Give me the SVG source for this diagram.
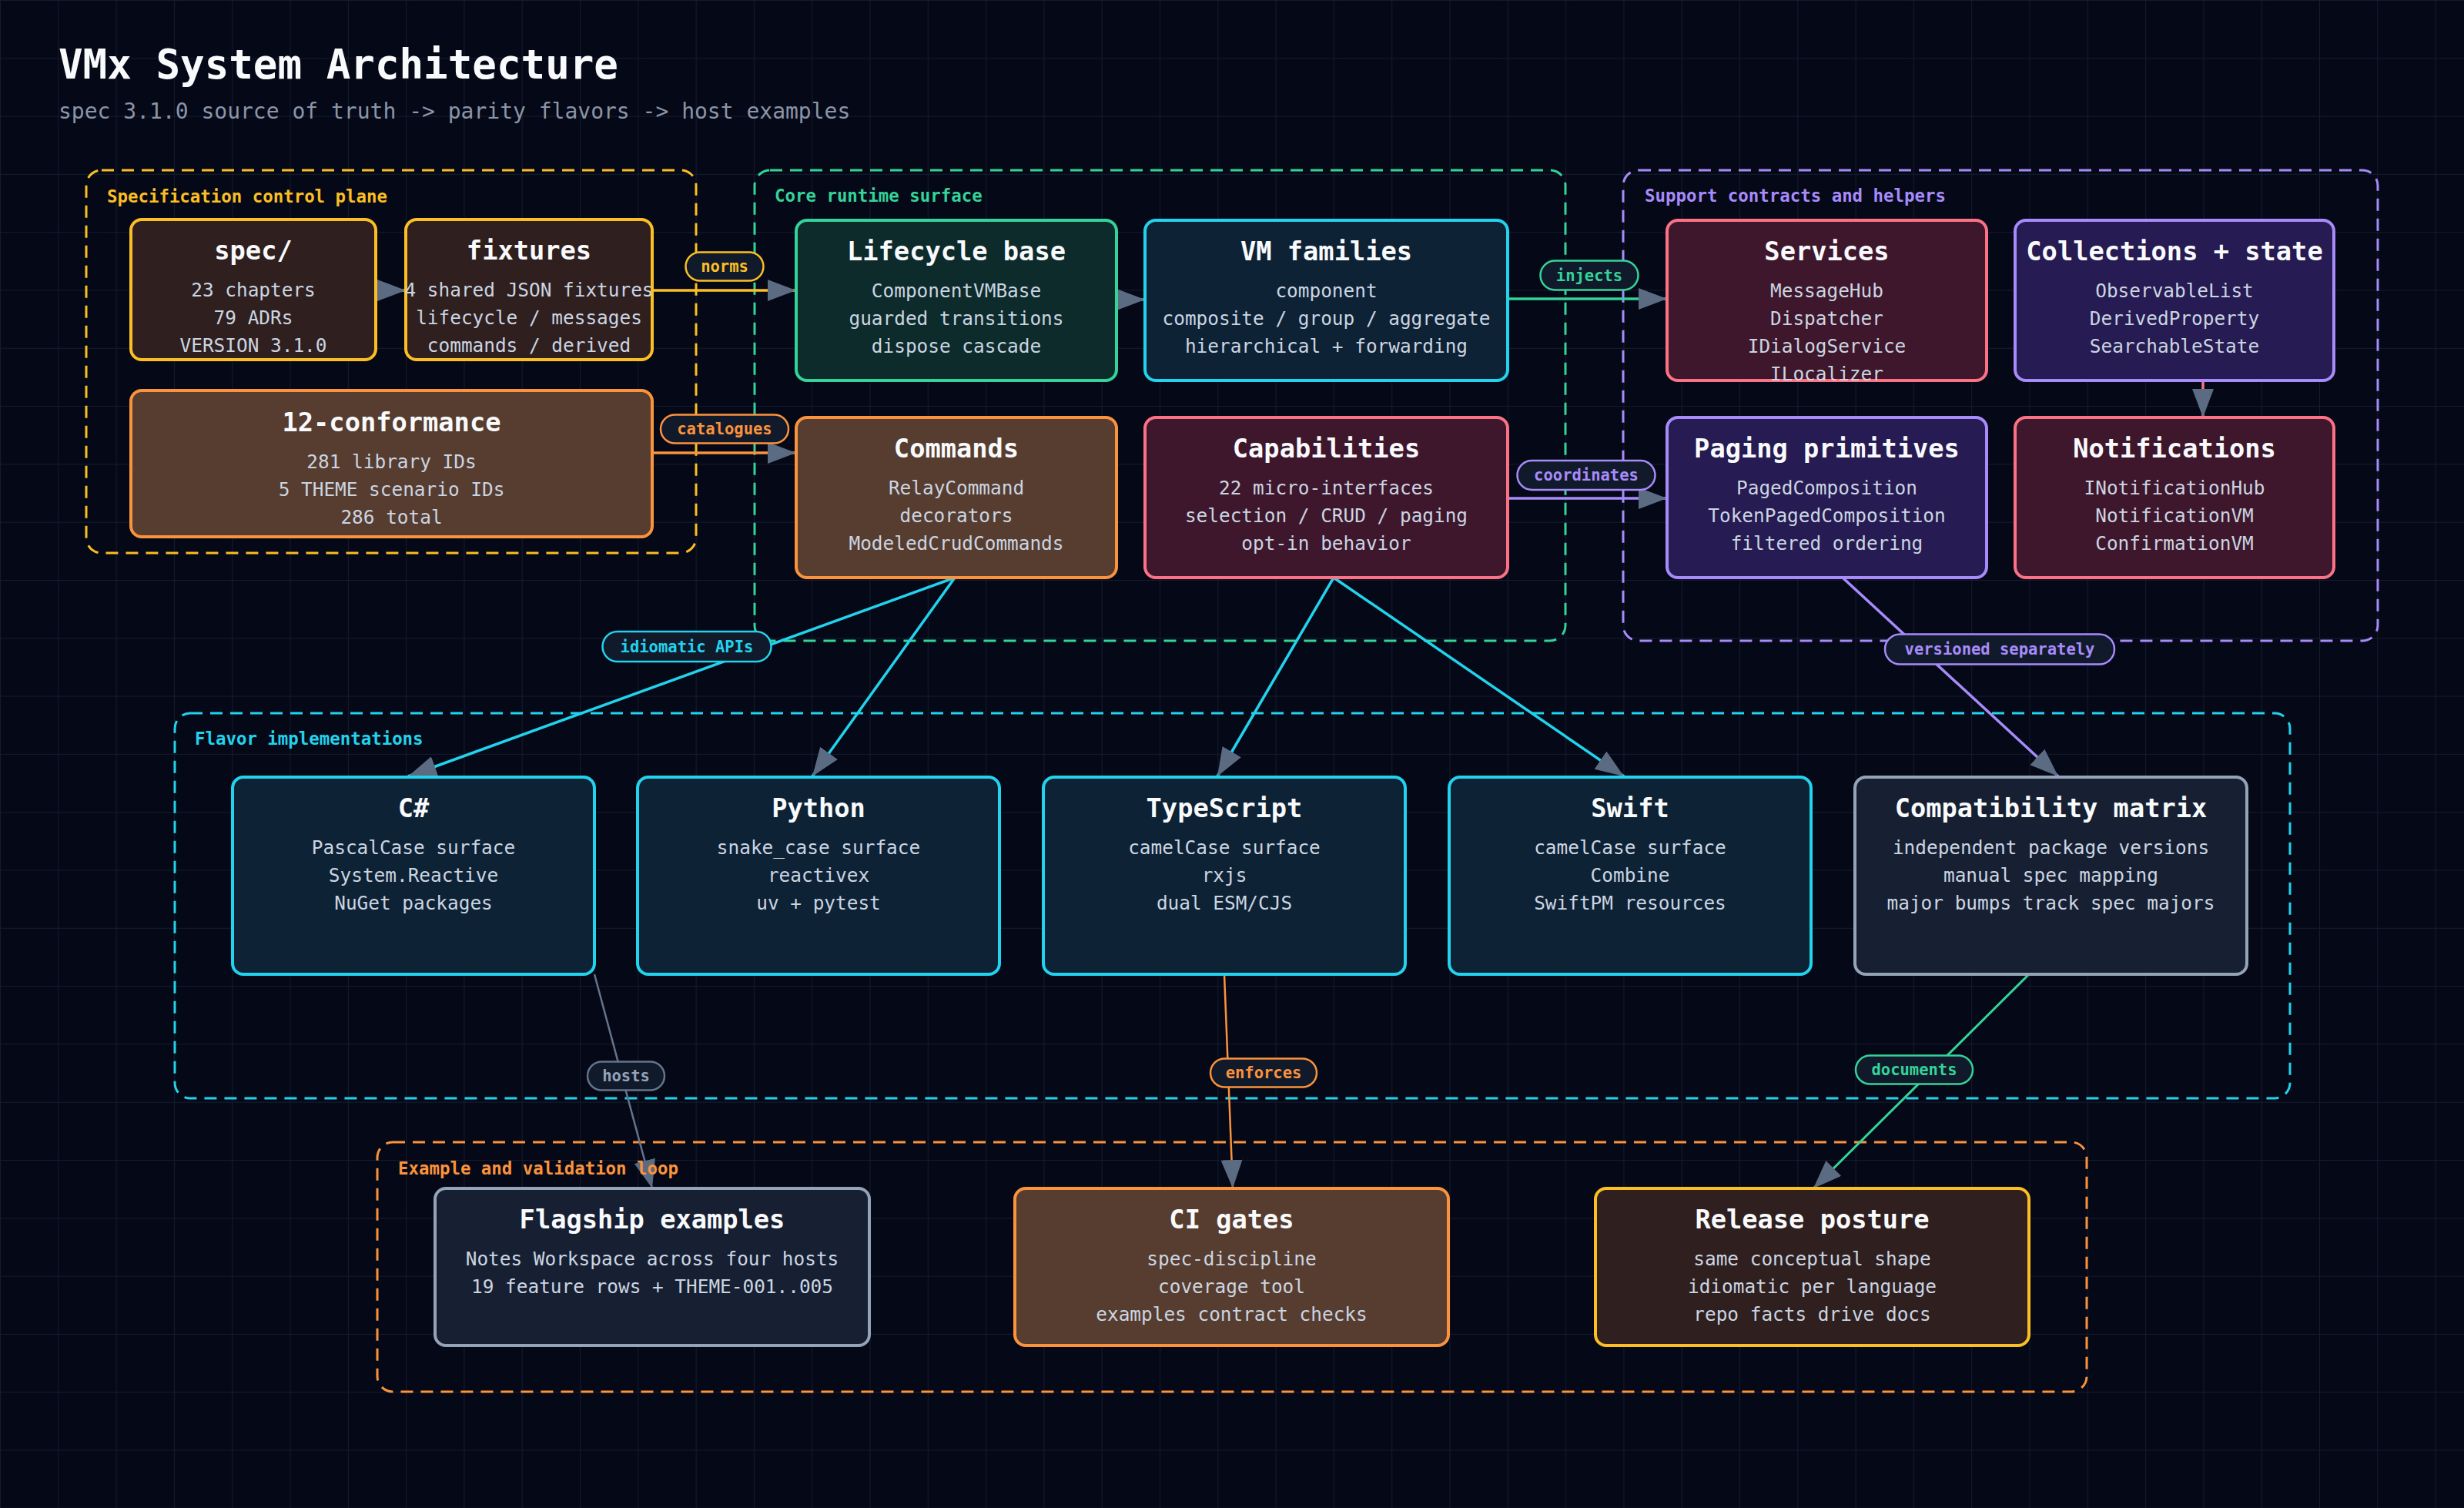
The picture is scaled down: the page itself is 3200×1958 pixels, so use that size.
<svg xmlns="http://www.w3.org/2000/svg" width="3200" height="1958" viewBox="0 0 3200 1958">
<defs>
<pattern id="grid" width="75.3" height="75.3" patternUnits="userSpaceOnUse">
<path d="M75.3,0 L0,0 L0,75.3" fill="none" stroke="#151c2e" stroke-width="2"/>
</pattern>
<marker id="arr" markerUnits="userSpaceOnUse" markerWidth="37" markerHeight="28" refX="37" refY="14" orient="auto" viewBox="0 0 37 28">
<path d="M0,0 L37,14 L0,28 z" fill="#5b6b82"/>
</marker>
<style>
text{font-family:"DejaVu Sans Mono","Liberation Mono",monospace;}
.title{font-size:52.5px;font-weight:bold;fill:#f8fafc;}
.sub{font-size:28px;fill:#8b95a7;}
.grp{fill:none;stroke-width:3;stroke-dasharray:16 10;}
.glab{font-size:22.4px;font-weight:bold;}
.node{stroke-width:4;}
.nt{font-size:33.7px;font-weight:bold;fill:#f8fafc;text-anchor:middle;}
.nb{font-size:24.4px;fill:#cbd5e1;text-anchor:middle;}
.e{fill:none;stroke-width:3.5;marker-end:url(#arr);}
.pill{fill:#111a2b;stroke-width:2.5;}
.pt{font-size:20.5px;font-weight:bold;text-anchor:middle;}
.y{stroke:#fbbf24;} .o{stroke:#fb923c;} .g{stroke:#34d399;} .c{stroke:#22d3ee;} .p{stroke:#a78bfa;} .r{stroke:#fb7185;} .s{stroke:#94a3b8;} .s2{stroke:#64748b;}
.fy{fill:#fbbf24;} .fo{fill:#fb923c;} .fg{fill:#34d399;} .fc{fill:#22d3ee;} .fp{fill:#a78bfa;} .fs{fill:#94a3b8;}
.ny{fill:#2f1f1f;} .no{fill:#573d2f;} .ng{fill:#0d2b2b;} .nc{fill:#0e2236;} .nr{fill:#3f172d;} .np{fill:#261b52;} .ns{fill:#172033;}
</style>
</defs>
<rect width="3200" height="1958" fill="#050816"/>
<rect width="3200" height="1958" fill="url(#grid)"/>

<text class="title" x="76" y="102">VMx System Architecture</text>
<text class="sub" x="76" y="154">spec 3.1.0 source of truth -&gt; parity flavors -&gt; host examples</text>

<g id="groups">
<rect id="grp-spec" class="grp y" x="112" y="221" width="792" height="497" rx="20"/>
<rect id="grp-core" class="grp g" x="980" y="221" width="1053" height="611" rx="20"/>
<rect id="grp-support" class="grp p" x="2108" y="221" width="980" height="611" rx="20"/>
<rect id="grp-flavor" class="grp c" x="227" y="926" width="2747" height="500" rx="20"/>
<rect id="grp-example" class="grp o" x="490" y="1483" width="2220" height="324" rx="20"/>
</g>

<g id="connectors">
<path class="e y" d="M488,377 L527,377"/>
<path class="e y" d="M847,377 L1034,377"/>
<path class="e o" d="M847,588 L1034,588"/>
<path class="e g" d="M1450,389 L1487,389"/>
<path class="e g" d="M1958,388 L2165,388"/>
<path class="e p" d="M1958,647 L2165,647"/>
<path class="e r" d="M2861,494 L2861,542"/>
<path class="e c" d="M1240,750 L530,1008"/>
<path class="e c" d="M1240,750 L1055,1008"/>
<path class="e c" d="M1732,750 L1581,1008"/>
<path class="e c" d="M1732,750 L2109,1008"/>
<path class="e p" d="M2393,750 L2673,1008"/>
<path class="e s2" style="stroke-width:2.5" d="M772,1265 L847,1543"/>
<path class="e o" style="stroke-width:2.5" d="M1590,1265 L1601,1543"/>
<path class="e g" style="stroke-width:3" d="M2635,1265 L2355,1543"/>
<g id="edge-labels">
<rect class="pill y" x="890.5" y="327.5" width="101" height="37" rx="18.5"/><text class="pt fy" x="941" y="353">norms</text>
<rect class="pill o" x="858" y="538.5" width="166" height="37" rx="18.5"/><text class="pt fo" x="941" y="564">catalogues</text>
<rect class="pill g" x="2000.5" y="338.5" width="127" height="38" rx="19"/><text class="pt fg" x="2064" y="364.5">injects</text>
<rect class="pill p" x="1970.5" y="598" width="179" height="38" rx="19"/><text class="pt fp" x="2060" y="624">coordinates</text>
<rect class="pill c" x="782.5" y="820" width="219" height="39" rx="19.5"/><text class="pt fc" x="892" y="846.5">idiomatic APIs</text>
<rect class="pill p" x="2448" y="823.5" width="298" height="39" rx="19.5"/><text class="pt fp" x="2597" y="850">versioned separately</text>
<rect class="pill s2" x="763" y="1378.5" width="100" height="37" rx="18.5"/><text class="pt fs" x="813" y="1404">hosts</text>
<rect class="pill o" x="1572" y="1374.5" width="138" height="37" rx="18.5"/><text class="pt fo" x="1641" y="1400">enforces</text>
<rect class="pill g" x="2410" y="1370.5" width="152" height="37" rx="18.5"/><text class="pt fg" x="2486" y="1396">documents</text>
</g>
</g>

<g id="group-labels">
<text class="glab fy" x="139" y="263">Specification control plane</text>
<text class="glab fg" x="1006" y="262">Core runtime surface</text>
<text class="glab fp" x="2136" y="262">Support contracts and helpers</text>
<text class="glab fc" x="253" y="967">Flavor implementations</text>
<text class="glab fo" x="517" y="1525">Example and validation loop</text>
</g>

<g id="nodes">
<g id="n-spec"><rect class="node ny y" x="170" y="285" width="318" height="182" rx="14"/>
<text class="nt" x="329" y="337">spec/</text>
<text class="nb" x="329" y="385">23 chapters</text><text class="nb" x="329" y="421">79 ADRs</text><text class="nb" x="329" y="457">VERSION 3.1.0</text></g>
<g id="n-fixtures"><rect class="node ny y" x="527" y="285" width="320" height="182" rx="14"/>
<text class="nt" x="687" y="337">fixtures</text>
<text class="nb" x="687" y="385">4 shared JSON fixtures</text><text class="nb" x="687" y="421">lifecycle / messages</text><text class="nb" x="687" y="457">commands / derived</text></g>
<g id="n-conformance"><rect class="node no o" x="170" y="507" width="677" height="190" rx="14"/>
<text class="nt" x="508.5" y="560">12-conformance</text>
<text class="nb" x="508.5" y="608">281 library IDs</text><text class="nb" x="508.5" y="644">5 THEME scenario IDs</text><text class="nb" x="508.5" y="680">286 total</text></g>

<g id="n-lifecycle"><rect class="node ng g" x="1034" y="286" width="416" height="208" rx="14"/>
<text class="nt" x="1242" y="338">Lifecycle base</text>
<text class="nb" x="1242" y="386">ComponentVMBase</text><text class="nb" x="1242" y="422">guarded transitions</text><text class="nb" x="1242" y="458">dispose cascade</text></g>
<g id="n-vmfamilies"><rect class="node nc c" x="1487" y="286" width="471" height="208" rx="14"/>
<text class="nt" x="1722.5" y="338">VM families</text>
<text class="nb" x="1722.5" y="386">component</text><text class="nb" x="1722.5" y="422">composite / group / aggregate</text><text class="nb" x="1722.5" y="458">hierarchical + forwarding</text></g>
<g id="n-commands"><rect class="node no o" x="1034" y="542" width="416" height="208" rx="14"/>
<text class="nt" x="1242" y="594">Commands</text>
<text class="nb" x="1242" y="642">RelayCommand</text><text class="nb" x="1242" y="678">decorators</text><text class="nb" x="1242" y="714">ModeledCrudCommands</text></g>
<g id="n-capabilities"><rect class="node nr r" x="1487" y="542" width="471" height="208" rx="14"/>
<text class="nt" x="1722.5" y="594">Capabilities</text>
<text class="nb" x="1722.5" y="642">22 micro-interfaces</text><text class="nb" x="1722.5" y="678">selection / CRUD / paging</text><text class="nb" x="1722.5" y="714">opt-in behavior</text></g>

<g id="n-services"><rect class="node nr r" x="2165" y="286" width="415" height="208" rx="14"/>
<text class="nt" x="2372.5" y="338">Services</text>
<text class="nb" x="2372.5" y="386">MessageHub</text><text class="nb" x="2372.5" y="422">Dispatcher</text><text class="nb" x="2372.5" y="458">IDialogService</text><text class="nb" x="2372.5" y="494">ILocalizer</text></g>
<g id="n-collections"><rect class="node np p" x="2617" y="286" width="414" height="208" rx="14"/>
<text class="nt" x="2824" y="338">Collections + state</text>
<text class="nb" x="2824" y="386">ObservableList</text><text class="nb" x="2824" y="422">DerivedProperty</text><text class="nb" x="2824" y="458">SearchableState</text></g>
<g id="n-paging"><rect class="node np p" x="2165" y="542" width="415" height="208" rx="14"/>
<text class="nt" x="2372.5" y="594">Paging primitives</text>
<text class="nb" x="2372.5" y="642">PagedComposition</text><text class="nb" x="2372.5" y="678">TokenPagedComposition</text><text class="nb" x="2372.5" y="714">filtered ordering</text></g>
<g id="n-notifications"><rect class="node nr r" x="2617" y="542" width="414" height="208" rx="14"/>
<text class="nt" x="2824" y="594">Notifications</text>
<text class="nb" x="2824" y="642">INotificationHub</text><text class="nb" x="2824" y="678">NotificationVM</text><text class="nb" x="2824" y="714">ConfirmationVM</text></g>

<g id="n-csharp"><rect class="node nc c" x="302" y="1009" width="470" height="256" rx="14"/>
<text class="nt" x="537" y="1061">C#</text>
<text class="nb" x="537" y="1109">PascalCase surface</text><text class="nb" x="537" y="1145">System.Reactive</text><text class="nb" x="537" y="1181">NuGet packages</text></g>
<g id="n-python"><rect class="node nc c" x="828" y="1009" width="470" height="256" rx="14"/>
<text class="nt" x="1063" y="1061">Python</text>
<text class="nb" x="1063" y="1109">snake_case surface</text><text class="nb" x="1063" y="1145">reactivex</text><text class="nb" x="1063" y="1181">uv + pytest</text></g>
<g id="n-typescript"><rect class="node nc c" x="1355" y="1009" width="470" height="256" rx="14"/>
<text class="nt" x="1590" y="1061">TypeScript</text>
<text class="nb" x="1590" y="1109">camelCase surface</text><text class="nb" x="1590" y="1145">rxjs</text><text class="nb" x="1590" y="1181">dual ESM/CJS</text></g>
<g id="n-swift"><rect class="node nc c" x="1882" y="1009" width="470" height="256" rx="14"/>
<text class="nt" x="2117" y="1061">Swift</text>
<text class="nb" x="2117" y="1109">camelCase surface</text><text class="nb" x="2117" y="1145">Combine</text><text class="nb" x="2117" y="1181">SwiftPM resources</text></g>
<g id="n-compat"><rect class="node ns s" x="2409" y="1009" width="509" height="256" rx="14"/>
<text class="nt" x="2663.5" y="1061">Compatibility matrix</text>
<text class="nb" x="2663.5" y="1109">independent package versions</text><text class="nb" x="2663.5" y="1145">manual spec mapping</text><text class="nb" x="2663.5" y="1181">major bumps track spec majors</text></g>

<g id="n-flagship"><rect class="node ns s" x="565" y="1543" width="564" height="204" rx="14"/>
<text class="nt" x="847" y="1595">Flagship examples</text>
<text class="nb" x="847" y="1643">Notes Workspace across four hosts</text><text class="nb" x="847" y="1679">19 feature rows + THEME-001..005</text></g>
<g id="n-ci"><rect class="node no o" x="1318" y="1543" width="563" height="204" rx="14"/>
<text class="nt" x="1599.5" y="1595">CI gates</text>
<text class="nb" x="1599.5" y="1643">spec-discipline</text><text class="nb" x="1599.5" y="1679">coverage tool</text><text class="nb" x="1599.5" y="1715">examples contract checks</text></g>
<g id="n-release"><rect class="node ny y" x="2072" y="1543" width="563" height="204" rx="14"/>
<text class="nt" x="2353.5" y="1595">Release posture</text>
<text class="nb" x="2353.5" y="1643">same conceptual shape</text><text class="nb" x="2353.5" y="1679">idiomatic per language</text><text class="nb" x="2353.5" y="1715">repo facts drive docs</text></g>
</g>
</svg>
